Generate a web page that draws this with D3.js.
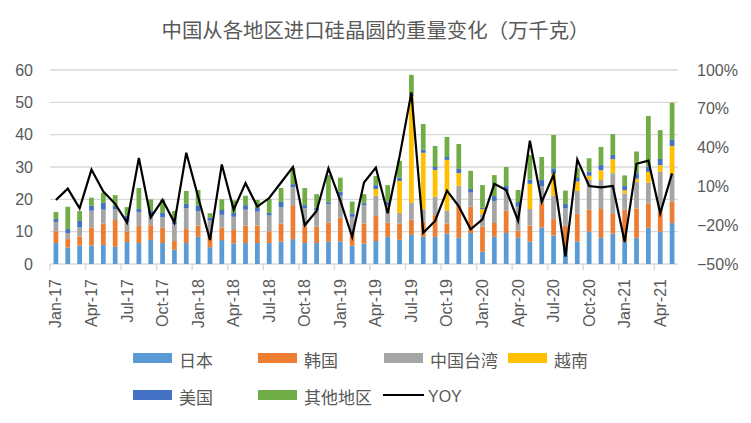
<!DOCTYPE html>
<html><head><meta charset="utf-8">
<script src="https://cdn.jsdelivr.net/npm/d3@7"></script>
<style>
body{margin:0;background:#fff}
svg{display:block}
.num{font-family:"Liberation Sans",Arial,sans-serif;fill:#595959;font-size:16px}
.cjk{font-family:"Noto Sans CJK SC","Noto Sans",sans-serif;fill:#595959}
</style>
</head><body><svg id="c" width="751" height="423"></svg>
<script>
const months = ["Jan-17","Feb-17","Mar-17","Apr-17","May-17","Jun-17","Jul-17","Aug-17","Sep-17","Oct-17","Nov-17","Dec-17",
"Jan-18","Feb-18","Mar-18","Apr-18","May-18","Jun-18","Jul-18","Aug-18","Sep-18","Oct-18","Nov-18","Dec-18",
"Jan-19","Feb-19","Mar-19","Apr-19","May-19","Jun-19","Jul-19","Aug-19","Sep-19","Oct-19","Nov-19","Dec-19",
"Jan-20","Feb-20","Mar-20","Apr-20","May-20","Jun-20","Jul-20","Aug-20","Sep-20","Oct-20","Nov-20","Dec-20",
"Jan-21","Feb-21","Mar-21","Apr-21","May-21"];
const tickLabels = ["Jan-17","Apr-17","Jul-17","Oct-17","Jan-18","Apr-18","Jul-18","Oct-18","Jan-19","Apr-19","Jul-19","Oct-19","Jan-20","Apr-20","Jul-20","Oct-20","Jan-21","Apr-21"];
const japan  = [6.5,5.1,5.7,5.7,5.9,5.3,6.8,6.5,7.4,6.5,4.4,6.5,8.4,5.2,7.4,6.4,6.5,6.5,6.5,6.9,7.7,6.5,6.5,6.9,6.9,5.7,6.3,7.1,8.4,7.5,9.0,8.4,8.4,9.4,8.1,9.6,3.8,8.4,9.6,8.1,6.9,11.3,8.8,5.0,7.0,10.0,8.1,9.4,6.9,8.1,11.2,10.0,12.7];
const korea  = [3.6,2.6,2.8,5.5,6.6,8.3,3.3,5.3,4.6,4.7,2.7,4.3,3.5,3.2,3.9,4.1,5.4,5.4,3.6,5.6,10.5,5.0,5.0,5.9,7.4,4.2,6.2,7.8,4.4,5.0,4.7,4.7,6.7,3.1,9.9,8.1,7.7,4.3,6.9,2.2,5.0,7.5,5.1,6.8,8.5,6.8,8.9,6.1,9.9,9.1,7.5,6.2,6.6];
const taiwan = [2.9,1.9,2.9,5.3,4.3,3.4,3.0,4.3,3.0,3.3,5.2,6.5,4.5,5.0,3.9,4.1,4.9,4.3,4.9,5.1,5.6,5.8,5.2,5.7,6.8,4.7,5.7,6.2,4.7,3.3,5.2,3.8,5.7,4.0,6.2,4.4,3.9,6.8,6.0,7.4,5.1,5.3,7.2,5.4,7.1,9.2,9.0,12.6,5.0,8.2,6.5,12.3,8.6];
const vietnam= [0,0,0,0,0,0,0,0,0,0,0,0,0,0,0,0,0,0,0,0,0,0,0,0,0,0,0,2.1,0.5,9.9,33.1,17.5,8.3,15.7,3.9,0,1.6,0,0,0,7.8,0,6.9,0,2.9,1.3,3.0,4.3,1.0,1.0,3.3,2.1,8.6];
const usa    = [0.9,1.2,1.9,1.5,2.1,1.0,1.9,0.9,1.5,1.3,0.6,1.3,1.6,0.9,1.5,1.2,1.4,1.1,0.8,1.6,0.9,0.9,0.7,0.6,1.3,1.0,0.6,1.2,1.3,1.0,0.5,1.0,0.9,0.9,1.3,1.1,0.4,1.5,1.6,1.5,1.3,1.9,1.6,1.4,1.1,1.3,1.6,1.3,1.3,1.7,1.6,1.9,1.9];
const others = [2.2,6.9,3.1,2.5,3.1,3.3,2.6,6.5,3.5,4.2,3.5,4.0,4.9,1.4,3.3,3.9,2.9,2.5,4.3,4.3,4.9,5.3,4.2,8.4,4.3,3.7,2.8,2.8,5.1,5.2,6.0,7.9,6.5,6.2,7.7,5.6,7.0,6.5,5.9,3.7,7.6,7.1,10.3,4.1,3.0,4.1,5.6,6.5,3.3,6.7,15.7,8.9,11.5];
const yoyPct = [-0.5,8.3,-7,23,6,-3.5,-18,32,-14,-0.5,-18,36,2,-31.5,27,-8,12.5,-5.7,1,13,25,-20,-9,24,-1,-29,13,24.5,-10.8,33,82.7,-25.8,-16.7,6.7,-5.5,-23.2,-15.5,12,7.2,-16.5,45.4,-2,19,-44.3,30.7,10.3,9.2,10.3,-33,27.5,29.9,-10.8,20.1];
const leftTicks = [0,10,20,30,40,50,60];
const rightTicks = [-0.5,-0.2,0.1,0.4,0.7,1.0];
const seriesNames = ["日本","韩国","中国台湾","越南","美国","其他地区"];
const seriesColors = ["#5B9BD5","#ED7D31","#A5A5A5","#FFC000","#4472C4","#70AD47"];
const title = "中国从各地区进口硅晶圆的重量变化（万千克）";

const svg = d3.select("#c");
const L = 50, R = 678, T = 70, B = 264;
const x = d3.scaleBand().domain(months).range([L, R]).padding(0);
const y = d3.scaleLinear().domain([0, 60]).range([B, T]);
const y2 = d3.scaleLinear().domain([-0.5, 1.0]).range([B, T]);
const bw = x.bandwidth();
const barW = bw * 0.4;

const seriesArrays = [japan, korea, taiwan, vietnam, usa, others];
const table = months.map((m, i) => {
  const row = {month: m};
  seriesNames.forEach((s, k) => row[s] = seriesArrays[k][i]);
  return row;
});

// gridlines
svg.append("g").selectAll("line").data(leftTicks).join("line")
  .attr("x1", L).attr("x2", R)
  .attr("y1", d => y(d)).attr("y2", d => y(d))
  .attr("stroke", "#d9d9d9").attr("stroke-width", 1.4);

// x tick marks
svg.append("g").selectAll("line").data(tickLabels).join("line")
  .attr("x1", d => x(d)).attr("x2", d => x(d))
  .attr("y1", B).attr("y2", B + 6)
  .attr("stroke", "#d9d9d9").attr("stroke-width", 1.4);

// stacked bars
const stack = d3.stack().keys(seriesNames)(table);
svg.append("g").selectAll("g").data(stack).join("g")
  .attr("fill", (d, k) => seriesColors[k])
  .selectAll("rect").data(d => d).join("rect")
  .attr("x", d => x(d.data.month) + (bw - barW) / 2)
  .attr("width", barW)
  .attr("y", d => y(d[1]))
  .attr("height", d => Math.max(0, y(d[0]) - y(d[1])));

// YOY line
const line = d3.line().x((d, i) => x(months[i]) + bw / 2).y(d => y2(d / 100));
svg.append("path").datum(yoyPct).attr("d", line)
  .attr("fill", "none").attr("stroke", "#000").attr("stroke-width", 2.2)
  .attr("stroke-linejoin", "miter");

// left axis labels
const gl = svg.append("g").attr("transform", `translate(${L},0)`)
  .call(d3.axisLeft(y).tickValues(leftTicks).tickSize(0).tickPadding(17));
gl.select(".domain").remove();
gl.selectAll("text").attr("class", "num").attr("font-size", null).attr("font-family", null);

// right axis labels
const gr = svg.append("g").attr("transform", `translate(${R},0)`)
  .call(d3.axisRight(y2).tickValues(rightTicks).tickSize(0).tickPadding(19).tickFormat(d3.format(".0%")));
gr.select(".domain").remove();
gr.selectAll("text").attr("class", "num").attr("font-size", null).attr("font-family", null);

// x labels
svg.append("g").selectAll("text").data(tickLabels).join("text")
  .attr("class", "num")
  .attr("transform", d => `translate(${x(d) + bw / 2},279) rotate(-90)`)
  .attr("text-anchor", "end").attr("dominant-baseline", "central")
  .text(d => d);

// title
svg.append("text").attr("class", "cjk").attr("x", 375.5).attr("y", 38)
  .attr("text-anchor", "middle").attr("font-size", 20)
  .attr("textLength", 428).attr("lengthAdjust", "spacingAndGlyphs").text(title);

// legend
const legendItems = [
  {name: seriesNames[0], color: seriesColors[0], col: 0, row: 0},
  {name: seriesNames[1], color: seriesColors[1], col: 1, row: 0},
  {name: seriesNames[2], color: seriesColors[2], col: 2, row: 0},
  {name: seriesNames[3], color: seriesColors[3], col: 3, row: 0},
  {name: seriesNames[4], color: seriesColors[4], col: 0, row: 1},
  {name: seriesNames[5], color: seriesColors[5], col: 1, row: 1},
  {name: "YOY", color: "#000", col: 2, row: 1, isLine: true}
];
const colX = [133, 258, 384, 508];
const rowY = [358, 395];
const lg = svg.append("g").selectAll("g").data(legendItems).join("g")
  .attr("transform", d => `translate(${d.isLine ? 383 : colX[d.col]},${rowY[d.row]})`);
lg.filter(d => !d.isLine).append("rect")
  .attr("x", 0).attr("y", -5).attr("width", 39).attr("height", 10)
  .attr("fill", d => d.color);
lg.filter(d => d.isLine).append("line")
  .attr("x1", 0).attr("x2", 41).attr("y1", 0).attr("y2", 0)
  .attr("stroke", "#000").attr("stroke-width", 2.2);
lg.append("text")
  .attr("class", d => d.isLine ? "num" : "cjk")
  .attr("x", d => d.isLine ? 45 : 46).attr("y", 1)
  .attr("dominant-baseline", "central")
  .attr("font-size", 17)
  .text(d => d.name);
</script>
</body></html>
